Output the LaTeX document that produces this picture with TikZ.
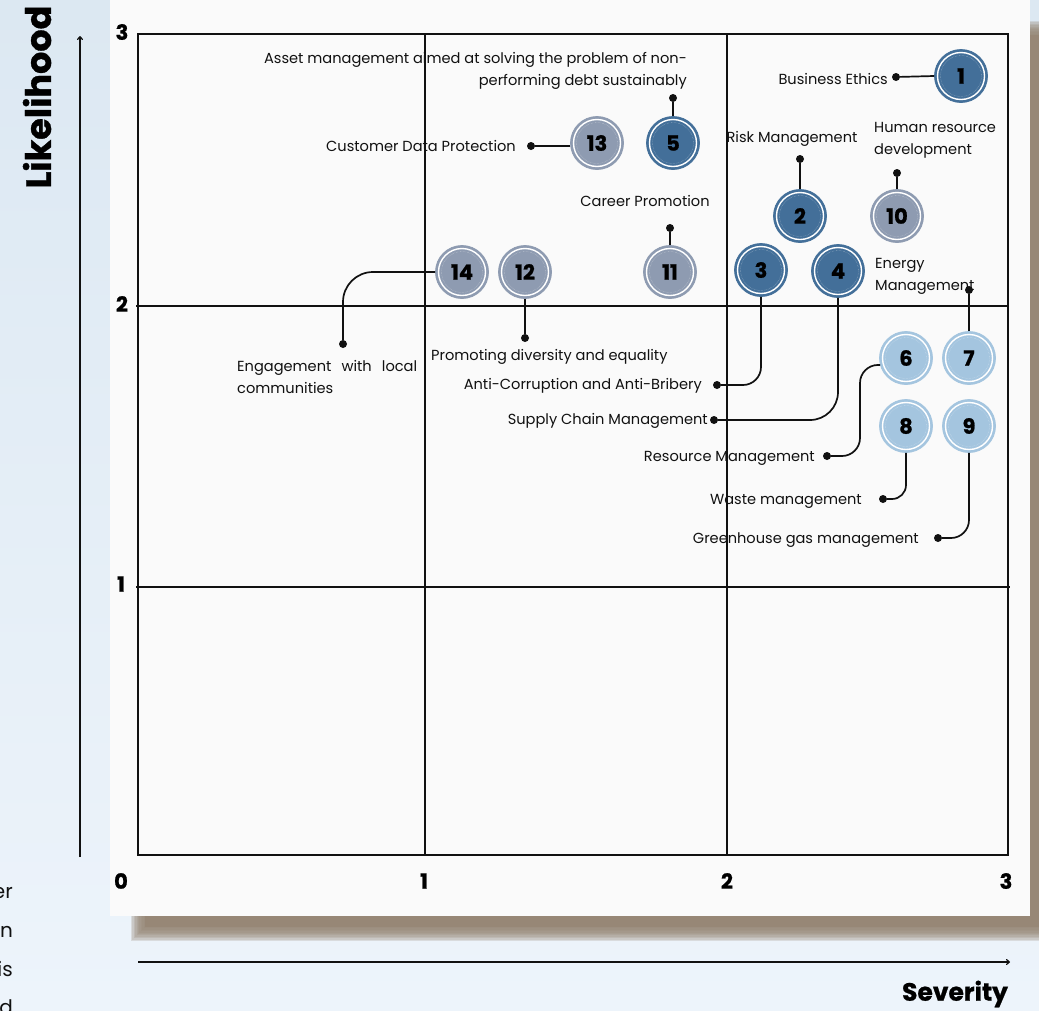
\documentclass[tikz,border=0pt]{standalone}
\usepackage{fontspec}
\setmainfont{Poppins}
\newfontfamily\heavyfont[BoldFeatures={FakeBold=0.9}]{Poppins}
\usetikzlibrary{arrows.meta}

\definecolor{bgtop}{HTML}{DCE8F2}
\definecolor{bgbot}{HTML}{EDF4FB}
\definecolor{card}{HTML}{FAFAFA}
\definecolor{shadowbrown}{HTML}{978776}
\definecolor{hi}{HTML}{436F99}
\definecolor{mid}{HTML}{8E9BB1}
\definecolor{lo}{HTML}{A4C5DF}
\definecolor{ink}{HTML}{111111}

\tikzset{
  gridline/.style={draw=ink,line width=1.7pt},
  conn/.style={draw=ink,line width=1.7pt},
  dotn/.style={circle,fill=ink,inner sep=0pt,minimum size=8pt},
  lbl/.style={font=\fontsize{14.6}{22}\selectfont,inner sep=0pt,text=ink},
  ticklbl/.style={font=\fontsize{21}{21}\selectfont\heavyfont\bfseries,inner sep=0pt,text=black},
  bubble/.style={circle,minimum size=53pt,inner sep=0pt,fill=#1,draw=#1,line width=0.8pt,
    font=\fontsize{21}{21}\selectfont\heavyfont\bfseries,text=black,
    path picture={
      \draw[white,line width=1.4pt] (path picture bounding box.center) circle (23.5pt);
      \draw[white,opacity=0.55,line width=0.4pt,densely dotted] (path picture bounding box.center) circle (20.5pt);
    }},
  axarrow/.style={draw=ink,line width=1.2pt,-{To[length=4pt,width=6pt]}},
  sidetext/.style={font=\fontsize{20}{20}\selectfont,anchor=east,inner sep=0pt,text=ink},
}

\begin{document}
\begin{tikzpicture}[x=1pt,y=-1pt]
\useasboundingbox (0,0) rectangle (1039,1010);
\clip (0,0) rectangle (1039,1010);

% page background
\shade[top color=bgtop,bottom color=bgbot] (0,0) rectangle (1039,1010);

% soft shadow behind the card
\foreach \k in {0,...,9}{
  \fill[shadowbrown,opacity=0.22]
    ({138-7+1.4*\k},{28-7+1.4*\k}) rectangle ({1060+7-1.4*\k},{934+7-1.4*\k});
}
\fill[shadowbrown] (145,35) rectangle (1053,927);

% card
\fill[card] (110,0) rectangle (1030,916);

% side text running off the left edge
\node[sidetext] (s1) at (13,893) {er};
\node[sidetext] (s2) at (13,932) {n};
\node[sidetext] (s3) at (13,969) {is};
\node[sidetext] (s4) at (13,1007) {d};

% axes arrows and titles
\coordinate (ya0) at (80,857);
\coordinate (ya1) at (80,36);
\draw[axarrow] (ya0) -- (ya1);
\coordinate (xa0) at (138,962);
\coordinate (xa1) at (1010,962);
\draw[axarrow] (xa0) -- (xa1);
\node[font=\fontsize{35}{35}\selectfont\heavyfont\bfseries,rotate=90,inner sep=0pt] (ylab) at (37,97) {Likelihood};
\node[font=\fontsize{25}{25}\selectfont\heavyfont\bfseries,inner sep=0pt] (xlab) at (955,994) {Severity};

% grid
\draw[gridline] (138,34) rectangle (1008,855);
\draw[gridline] (425,34) -- (425,855);
\draw[gridline] (727,34) -- (727,855);
\draw[gridline] (136,306) -- (1008,306);
\draw[gridline] (136,587) -- (1010,587);

% tick labels
\node[ticklbl] (y3) at (122,32) {3};
\node[ticklbl] (y2) at (122,304) {2};
\node[ticklbl] (y1) at (121,584) {1};
\node[ticklbl] (x0) at (121,881) {0};
\node[ticklbl] (x1) at (424,881) {1};
\node[ticklbl] (x2) at (727,881) {2};
\node[ticklbl] (x3) at (1006,881) {3};

% bubbles
\node[bubble=hi]  (c1)  at (961,76)  {1};
\node[bubble=hi]  (c2)  at (800,216) {2};
\node[bubble=hi]  (c3)  at (761,270) {3};
\node[bubble=hi]  (c4)  at (838,271) {4};
\node[bubble=hi]  (c5)  at (673,143) {5};
\node[bubble=lo]  (c6)  at (906,358) {6};
\node[bubble=lo]  (c7)  at (969,358) {7};
\node[bubble=lo]  (c8)  at (906,426) {8};
\node[bubble=lo]  (c9)  at (969,426) {9};
\node[bubble=mid] (c10) at (897,216) {10};
\node[bubble=mid] (c11) at (670,272) {11};
\node[bubble=mid] (c12) at (525,272) {12};
\node[bubble=mid] (c13) at (597,143) {13};
\node[bubble=mid] (c14) at (462,272) {14};

% labels
\node[lbl,anchor=east] (t1) at (888,79) {Business Ethics};
\node[lbl,anchor=east] (t13) at (516,146) {Customer Data Protection};
\node[lbl,anchor=east,align=right] (t5) at (687,71) {Asset management aimed at solving the problem of non-\\performing debt sustainably};
\node[lbl] (t2) at (792,139) {Risk Management};
\node[lbl,anchor=west,align=left] (t10) at (874,140) {Human resource\\development};
\node[lbl] (t11) at (645,201) {Career Promotion};
\node[lbl,anchor=west,align=left] (t7) at (875,276) {Energy\\Management};
\node[lbl,anchor=west,align=left] (t14) at (237,377) {\makebox[180pt][s]{Engagement with local}\\communities};
\node[lbl,anchor=west] (t12) at (431,357) {Promoting diversity and equality};
\node[lbl,anchor=east] (t3) at (702,386) {Anti-Corruption and Anti-Bribery};
\node[lbl,anchor=east] (t4) at (708,421) {Supply Chain Management};
\node[lbl,anchor=east] (t6) at (815,458) {Resource Management};
\node[lbl,anchor=east] (t8) at (862,501) {Waste management};
\node[lbl,anchor=east] (t9) at (919,540) {Greenhouse gas management};

% connector end dots
\node[dotn] (d1)  at (896,77)  {};
\node[dotn] (d13) at (531,146) {};
\node[dotn] (d5)  at (673,98)  {};
\node[dotn] (d2)  at (800,159) {};
\node[dotn] (d10) at (897,173) {};
\node[dotn] (d11) at (670,228) {};
\node[dotn] (d14) at (343,344) {};
\node[dotn] (d12) at (525,338) {};
\node[dotn] (d3)  at (717,385) {};
\node[dotn] (d4)  at (714,420) {};
\node[dotn] (d7)  at (969,290) {};
\node[dotn] (d6)  at (827,456) {};
\node[dotn] (d8)  at (883,499) {};
\node[dotn] (d9)  at (938,538) {};

% connectors
\draw[conn] (c1.west) -- (d1);
\draw[conn] (c13.west |- d13) -- (d13);
\draw[conn] (c5.north) -- (d5);
\draw[conn] (c2.north) -- (d2);
\draw[conn] (c10.north) -- (d10);
\draw[conn] (c11.north) -- (d11);
\draw[conn] (c7.north) -- (d7);
\draw[conn] (c12.south) -- (d12);
\draw[conn,rounded corners=30pt] (c14.west) -| (d14);
\draw[conn,rounded corners=18pt] (c3.south) |- (d3);
\draw[conn,rounded corners=28pt] (c4.south) |- (d4);
\coordinate (k6) at (860,456);
\draw[conn,rounded corners=18pt] (c6.195) -| (k6) -- (d6);
\draw[conn,rounded corners=14pt] (c8.south) |- (d8);
\draw[conn,rounded corners=18pt] (c9.south) |- (d9);
\end{tikzpicture}
\end{document}
